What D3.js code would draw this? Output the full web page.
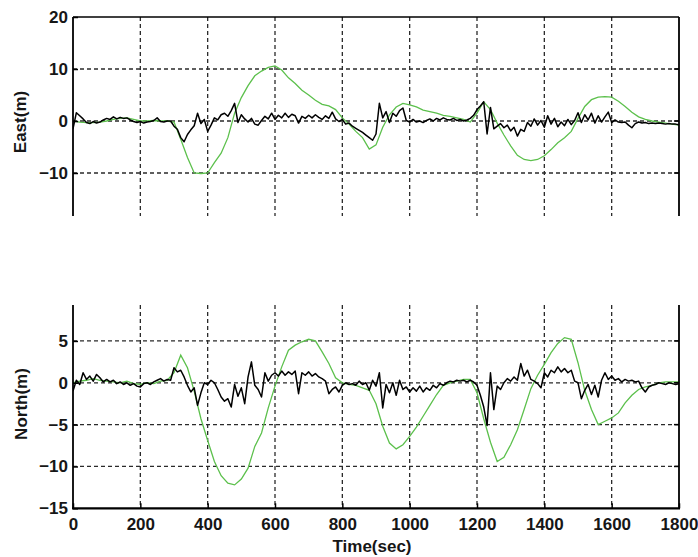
<!DOCTYPE html>
<html>
<head>
<meta charset="utf-8">
<script src="https://cdn.jsdelivr.net/npm/d3@7"></script>
<style>
  body { margin: 0; background: #fff; }
  svg text { font-family: "Liberation Sans", Arial, sans-serif; font-weight: bold; fill: #161616; }
</style>
</head>
<body>
<svg id="chart" width="698" height="557"></svg>
<script>
// sampling steps (sec)
const greenStep = 20;
const blackStep = 10;

// East error, green trace (every 20 s, 0..1800)
const eastGreen = [
  0, -0.2, -0.3, -0.3, -0.2, 0, 0.3, 0.5, 0.6, 0.3,
  0, 0, 0.1, 0, 0, -0.2, -3.5, -7, -10, -10.1,
  -10, -8, -6.2, -3.2, 1.5, 4.5, 6.8, 8.7, 9.6, 10.3,
  10.6, 9.8, 8.3, 7.2, 5.9, 5, 4, 3.2, 2.9, 2.2,
  0.6, -0.6, -2, -3.2, -5.4, -4.6, -1.2, 1.2, 2.7, 3.4,
  3.1, 2.7, 2.1, 1.8, 1.5, 1.1, 0.9, 0.6, 0.3, -0.2,
  1.5, 3.7, 2.2, -0.4, -2.7, -4.8, -6.6, -7.4, -7.6, -7.4,
  -6.7, -5.5, -4.2, -3.2, -2, 0.5, 2.8, 4.1, 4.6, 4.7,
  4.6, 3.8, 2.8, 1.7, 0.8, 0.3, 0, -0.2, -0.4, -0.6,
  -0.8
];

// East error, black trace (every 10 s, 0..1800)
const eastBlack = [
  -1.5, 1.6, 1.0, 0.4, -0.3, -0.5, -0.1, -0.4, -0.2, 0.2,
  0.5, 0.3, 0.8, 0.4, 0.7, 0.5, 0.6, 0.2, -0.1, -0.3,
  -0.1, -0.4, -0.2, -0.1, 0.1, 0.6, -0.1, -0.2, 0, 0,
  -1.0, -1.6, -3.2, -4.0, -2.6, -1.7, -0.9, 1.5, -0.5, 0.3,
  -2.0, -0.8, 0.6, 0.2, 1.2, 1.5, 0.9, 2.0, 3.4, -0.3,
  1.2, 0.4, -0.2, 0.5, -0.6, -0.8, 0.1, 0.9, 0.4, 1.5,
  0.3, 1.1, 0.6, 1.5, 0.7, 1.3, 1.0, -0.4, 0.9, 0.5,
  1.1, 0.6, 1.2, 0.7, 0.3, 1.0, 0.5, 1.7, 0.4, -0.1,
  0.3, -0.6, -0.4, -1.0, -1.4, -1.8, -2.2, -2.7, -3.2, -3.7,
  -2.5, 3.4, 0.6, 1.8, -0.3, 1.5, 0.9, 2.0, 2.5, 0.1,
  -0.2, 0.3, -0.2, 0, -0.3, 0.1, 0.4, 0, 0.5, 0.2,
  0.6, 0.3, 0.2, 0.5, 0.1, 0.3, 0, 0.2, 0.5, 1.1,
  2.2, 2.9, 3.7, -2.5, 2.6, -1.5, -1.0, -0.5, -1.3, -0.8,
  -1.9, -1.2, -2.9, -1.6, -2.0, -0.3, -1.0, 0.4, -0.8, 0.1,
  -1.2, 1.0, -0.6, 0.5, -1.1, -0.2, -0.9, 0.3, -0.7, 0.1,
  1.6, -0.3, 1.2, 0.2, 1.5, -0.4, 1.0, -0.2, 0.8, 1.7,
  -0.3, 0.2, -0.2, -0.3, -0.2, -0.8, -1.3, -0.5, -0.2, -0.4,
  -0.3, -0.5, -0.4, -0.5, -0.4, -0.5, -0.6, -0.5, -0.6, -0.6,
  -0.7
];

// North error, green trace (every 20 s)
const northGreen = [
  0, 0.2, 0.3, 0.5, 0.3, 0.2, 0.1, 0, 0.2, -0.1,
  -0.2, 0, -0.1, 0.2, 0.3, 1.2, 3.3, 1.8, -1.0, -4.3,
  -6.9, -9.4, -11.1, -12.0, -12.2, -11.5, -10.2, -7.6, -6.0, -3.0,
  -0.4, 1.9, 3.9, 4.5, 4.9, 5.2, 5.0, 3.7, 2.3, 0.6,
  0, -0.2, -0.3, -0.6, -0.9, -2.5, -5.2, -7.2, -7.9, -7.4,
  -6.4, -5.3, -4.0, -2.7, -1.4, -0.3, 0, 0.2, 0.4, 0.4,
  -1.2, -4.3, -7.1, -9.4, -8.9, -7.4, -5.6, -3.2, -0.7, 0.9,
  2.2, 3.6, 4.7, 5.4, 5.2, 2.4, -0.9, -3.2, -5.0, -4.6,
  -4.2, -3.6, -2.4, -1.5, -0.8, -0.5, -0.3, 0, 0.1, 0.1,
  0.1
];

// North error, black trace (every 10 s)
const northBlack = [
  -1.0, 0.3, -0.2, 1.2, 0.4, 0.8, 0.2, 1.0, 0.6, 0.1,
  0.4, 0.1, 0.3, -0.1, 0.1, -0.2, 0, -0.3, -0.1, -0.4,
  -0.5, -0.1, 0, -0.2, 0.1, 0.3, 0.5, 0.2, 0.4, 0.3,
  1.8, 1.3, 1.5, 0.7, -0.3, -1.1, -0.6, -2.7, -1.2, 0,
  -0.2, 0.3, 0, -0.8, -1.7, -2.2, -1.9, -2.9, -0.2, -1.6,
  -0.6, -2.5, 0.7, 2.5, -0.3, -0.8, -1.7, 1.2, 0.2, 0.9,
  1.2, 0.8, 1.4, 0.9, 1.3, 1.0, 1.4, -1.3, 1.2, 0.9,
  1.3, 0.8, 1.1, 0.7, 0.5, 0.2, -1.3, -0.8, -0.5, -1.1,
  -0.3, 0, -0.2, -0.1, -0.3, 0.2, -0.2, 0, -0.9, 0.3,
  -0.4, 1.2, -3.0, -0.2, -1.2, 0, -1.5, 0.3, -0.8, -0.5,
  -1.1, -0.6, -1.0, -0.4, -1.1, -0.6, -0.9, -0.3, -0.6, -0.1,
  -0.3, 0, 0.2, 0.1, 0.3, 0.2, 0.3, 0.1, 0.3, 0.1,
  -0.3, -1.5, -2.9, -5.1, 1.2, -3.2, -0.4, -0.8, 0, 0.5,
  0.2, 0.7, 0.3, 2.3, 0.8, 1.5, 0.4, 0.2, -0.1, -0.6,
  1.2, 0.7, 1.5, 1.2, 1.9, 1.3, 1.7, 1.2, 1.5, 0.2,
  0, -1.9, -0.9, -0.2, -1.4, -0.3, -1.7, 0.3, 1.2, 0.4,
  0.8, 0.3, 0.5, 0.1, 0.4, 0.2, 0.3, 0.1, 0.2, -0.6,
  -1.1, -0.5, -0.3, -0.2, 0, -0.1, -0.2, 0, -0.1, -0.2,
  -0.1
];

// tick labels
const xTicks = [0, 200, 400, 600, 800, 1000, 1200, 1400, 1600, 1800];
const eastTicks = [20, 10, 0, -10];
const northTicks = [5, 0, -5, -10, -15];

const svg = d3.select("#chart");

// shared x scale
const x = d3.scaleLinear().domain([0, 1800]).range([73, 679]);

const green = "#5cc04c";
const gridColor = "#2a2a2a";

function drawPanel(cfg) {
  const y = d3.scaleLinear().domain(cfg.domain).range(cfg.range);
  const g = svg.append("g");

  // clip: panel area is cut off (top frame of lower panel / bottom of upper)
  const clipId = "clip-" + cfg.name;
  svg.append("clipPath").attr("id", clipId)
    .append("rect")
    .attr("x", x(0)).attr("y", cfg.top)
    .attr("width", x(1800) - x(0)).attr("height", cfg.bottom - cfg.top);

  // dashed grid
  const grid = g.append("g").attr("clip-path", `url(#${clipId})`);
  grid.selectAll(".vg")
    .data(xTicks.slice(1, -1))
    .enter().append("line")
    .attr("x1", d => x(d)).attr("x2", d => x(d))
    .attr("y1", cfg.top).attr("y2", cfg.bottom)
    .attr("stroke", gridColor).attr("stroke-width", 1.3)
    .attr("stroke-dasharray", "4,3");
  grid.selectAll(".hg")
    .data(cfg.grid)
    .enter().append("line")
    .attr("x1", x(0)).attr("x2", x(1800))
    .attr("y1", d => y(d)).attr("y2", d => y(d))
    .attr("stroke", gridColor).attr("stroke-width", 1.3)
    .attr("stroke-dasharray", "4,3");

  // traces
  const lineG = d3.line()
    .x((d, i) => x(i * greenStep))
    .y(d => y(d));
  const lineB = d3.line()
    .x((d, i) => x(i * blackStep))
    .y(d => y(d));

  grid.append("path")
    .datum(cfg.green)
    .attr("fill", "none")
    .attr("stroke", green)
    .attr("stroke-width", 1.3)
    .attr("d", lineG);

  grid.append("path")
    .datum(cfg.black)
    .attr("fill", "none")
    .attr("stroke", "#000")
    .attr("stroke-width", 1.5)
    .attr("stroke-linejoin", "round")
    .attr("d", lineB);

  // left axis (ticks inside, like matlab)
  const yAxis = g.append("g")
    .attr("transform", `translate(${x(0)},0)`)
    .call(d3.axisLeft(y).tickValues(cfg.ticks).tickSize(-5).tickPadding(5));
  yAxis.select(".domain").remove();
  yAxis.selectAll("text").style("font-size", "17px").attr("fill", "#161616");
  yAxis.selectAll("line").attr("stroke", "#000").attr("stroke-width", 1.5);

  // right ticks
  g.selectAll(".rt")
    .data(cfg.ticks.filter(d => y(d) > cfg.top && y(d) < cfg.bottom))
    .enter().append("line")
    .attr("x1", x(1800) - 5).attr("x2", x(1800))
    .attr("y1", d => y(d)).attr("y2", d => y(d))
    .attr("stroke", "#000").attr("stroke-width", 1.5);

  // frame
  g.append("line")
    .attr("x1", x(0)).attr("x2", x(0))
    .attr("y1", cfg.top).attr("y2", cfg.bottom)
    .attr("stroke", "#000").attr("stroke-width", 1.8);
  g.append("line")
    .attr("x1", x(1800)).attr("x2", x(1800))
    .attr("y1", cfg.top).attr("y2", cfg.bottom)
    .attr("stroke", "#000").attr("stroke-width", 1.8);

  // y label
  svg.append("text")
    .attr("transform", `translate(${cfg.labelX},${cfg.labelY}) rotate(-90)`)
    .attr("text-anchor", "middle")
    .style("font-size", "17px")
    .text(cfg.label);

  return { g, y };
}

// East panel
const east = drawPanel({
  name: "east",
  domain: [-20, 20],
  range: [225, 17],
  top: 17,
  bottom: 216,
  ticks: eastTicks,
  grid: [10, 0, -10],
  green: eastGreen,
  black: eastBlack,
  label: "East(m)",
  labelX: 26,
  labelY: 122
});

// top frame line of upper panel
east.g.append("line")
  .attr("x1", x(0)).attr("x2", x(1800))
  .attr("y1", 17).attr("y2", 17)
  .attr("stroke", "#000").attr("stroke-width", 1.3);

// North panel
const north = drawPanel({
  name: "north",
  domain: [-15, 10],
  range: [508.3, 299.1],
  top: 305,
  bottom: 508.3,
  ticks: northTicks,
  grid: [5, 0, -5, -10],
  green: northGreen,
  black: northBlack,
  label: "North(m)",
  labelX: 27,
  labelY: 404
});

// x axis of lower panel
const xAxis = svg.append("g")
  .attr("transform", "translate(0,508.3)")
  .call(d3.axisBottom(x).tickValues(xTicks).tickSize(-5).tickPadding(10).tickFormat(d3.format("d")));
xAxis.select(".domain").remove();
xAxis.selectAll("text").style("font-size", "17px").attr("fill", "#161616");
xAxis.selectAll("line").attr("stroke", "#000").attr("stroke-width", 1.5);

svg.append("line")
  .attr("x1", x(0) - 1).attr("x2", x(1800) + 1)
  .attr("y1", 508.3).attr("y2", 508.3)
  .attr("stroke", "#000").attr("stroke-width", 2.2);

// x label
svg.append("text")
  .attr("x", 372)
  .attr("y", 552)
  .attr("text-anchor", "middle")
  .style("font-size", "17px")
  .text("Time(sec)");
</script>
</body>
</html>
